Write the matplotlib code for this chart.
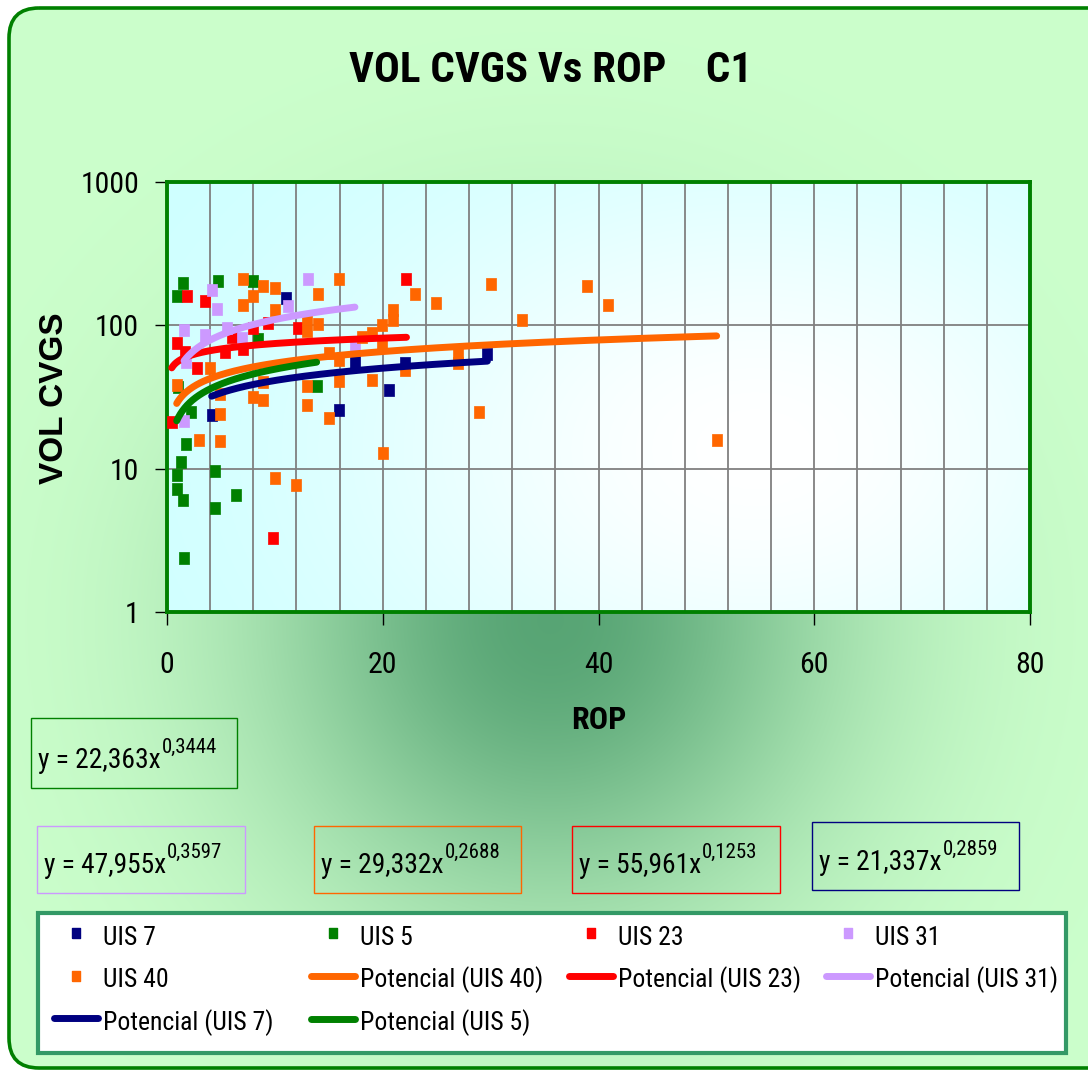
import numpy as np
import matplotlib
matplotlib.use('Agg')
import matplotlib.pyplot as plt
from matplotlib import font_manager as fm
from matplotlib.patches import FancyBboxPatch, Rectangle
from matplotlib.lines import Line2D
from matplotlib.ticker import FixedLocator, FixedFormatter, NullLocator

W, H, DPI = 1088, 1074, 100

# pick a narrow sans font if one is installed, else shrink Arial-metric text
_avail = {f.name for f in fm.fontManager.ttflist}
_pref = ['Liberation Sans Narrow', 'Arial Narrow', 'Arimo Narrow', 'Roboto Condensed',
         'Open Sans Condensed', 'Noto Sans Condensed', 'DejaVu Sans Condensed']
NARROW_NAME = next((p for p in _pref if p in _avail), None)
if NARROW_NAME is None:
    _cands = sorted(n for n in _avail if ('Narrow' in n or 'Condensed' in n)
                    and 'CJK' not in n and 'Mono' not in n and 'Serif' not in n)
    NARROW_NAME = _cands[0] if _cands else None
if NARROW_NAME is not None:
    NARROW = [NARROW_NAME, 'Liberation Sans', 'DejaVu Sans']
    FS = 1.0
else:
    NARROW = ['Liberation Sans', 'DejaVu Sans']
    FS = 0.83
WIDE = ['Liberation Sans', 'DejaVu Sans']
plt.rcParams['font.family'] = NARROW

# ---------------- data ----------------
title = 'VOL CVGS Vs ROP    C1'
x_label = 'ROP'
y_label = 'VOL CVGS'
x_ticks = [0, 20, 40, 60, 80]
x_grid = list(range(0, 81, 4))
y_ticks = [1, 10, 100, 1000]
y_tick_labels = ['1', '10', '100', '1000']

series_names = ['UIS 7', 'UIS 5', 'UIS 23', 'UIS 31', 'UIS 40']
series_colors = ['#000080', '#008000', '#FF0000', '#CC99FF', '#FF6600']

uis7_x = [4.14, 11.03, 15.97, 17.42, 20.6, 22.06, 29.7]
uis7_y = [23.5, 155, 25.7, 55.6, 35.2, 54.2, 63]

uis5_x = [0.90, 1.51, 4.75, 8.0, 8.46, 1.02, 13.87, 2.22, 1.76, 1.27, 0.95, 0.95,
          1.46, 4.45, 6.39, 4.45, 1.58]
uis5_y = [159, 198, 203, 203, 79.9, 37.3, 37.5, 24.8, 14.8, 11.2, 9.1, 7.2,
          6.0, 9.7, 6.5, 5.3, 2.37]

uis23_x = [0.44, 0.95, 1.67, 1.88, 2.81, 3.52, 5.38, 6.0, 7.0, 8.0, 9.39, 9.85, 12.17, 22.2]
uis23_y = [21.1, 74.8, 65.3, 159, 50, 149, 65.3, 83.3, 67.9, 95.5, 103.5, 3.27, 95.5, 211]

uis31_x = [1.58, 1.58, 1.76, 3.52, 4.14, 4.61, 5.53, 6.92, 11.24, 13.1, 17.42]
uis31_y = [21.6, 92.9, 55.6, 85.5, 177, 130, 95.5, 81, 137, 211, 70.2]

uis40_x = [7.02, 8.92, 10.01, 7.94, 7.02, 14.02, 15.97, 10.01, 12.95, 12.95, 14.02, 19.9,
           18.04, 18.97, 19.9, 20.92, 20.92, 22.98, 24.9, 30.03, 38.95, 40.9, 32.87, 15.04,
           15.97, 27.0, 27.0, 22.06, 12.95, 15.97, 18.97, 12.95, 15.04, 28.92, 19.99, 50.95,
           0.90, 4.91, 4.91, 8.0, 8.92, 3.99, 2.99, 4.91, 10.01, 11.96, 8.92]
uis40_y = [211, 189, 182, 159, 139, 165, 211, 128, 110, 92, 102, 101,
           83, 88, 72, 128, 109, 165, 144, 195, 189, 139, 109, 63.7,
           57.1, 63.7, 54.2, 48.6, 37.5, 40.7, 41.8, 27.6, 22.6, 24.8, 12.9, 15.8,
           38.1, 33, 24.1, 31.5, 30.2, 50, 15.8, 15.5, 8.6, 7.7, 40.2]

series_x = [uis7_x, uis5_x, uis23_x, uis31_x, uis40_x]
series_y = [uis7_y, uis5_y, uis23_y, uis31_y, uis40_y]

# power trend lines  y = a * x^b  ("Potencial")
fit_a = [21.337, 22.363, 55.961, 47.955, 29.332]
fit_b = [0.2859, 0.3444, 0.1253, 0.3597, 0.2688]
trend_order = ['UIS 40', 'UIS 23', 'UIS 31', 'UIS 7', 'UIS 5']

# ---------------- layout ----------------
AX_L, AX_R, AX_T, AX_B = 167, 1030, 182, 612
eq_boxes = {'UIS 5': (31, 718, 237, 788), 'UIS 31': (37, 826, 245, 893),
            'UIS 40': (314, 826, 521, 893), 'UIS 23': (572, 826, 780, 893),
            'UIS 7': (812, 822, 1019, 890)}
LEG_BOX = (38, 913, 1066, 1053)

fig = plt.figure(figsize=(W / DPI, H / DPI), dpi=DPI)
fig.patch.set_facecolor('white')

# background axes in pixel coordinates
bg = fig.add_axes([0, 0, 1, 1], zorder=0)
bg.set_xlim(0, W)
bg.set_ylim(H, 0)
bg.axis('off')

yy, xx = np.mgrid[0:H, 0:W]
sy = np.where(yy < 620, 270.0, 290.0)
d2 = ((xx - 550) / 285.0) ** 2 + ((yy - 620) / sy) ** 2
t = 0.93 * np.exp(-d2)
light = np.array([204, 255, 204]) / 255.0
dark = np.array([79, 158, 110]) / 255.0
img = light[None, None, :] * (1 - t[..., None]) + dark[None, None, :] * t[..., None]
border = FancyBboxPatch((9, 8), 1120, 1060, boxstyle='round,pad=0,rounding_size=30',
                        facecolor='none', edgecolor='#008000', lw=2.6, zorder=3)
bg.add_patch(border)
im = bg.imshow(img, extent=(0, W, H, 0), aspect='auto', zorder=1)
im.set_clip_path(border)

# plot-area gradient
rect = [AX_L / W, 1 - AX_B / H, (AX_R - AX_L) / W, (AX_B - AX_T) / H]
pbg = fig.add_axes(rect, zorder=1)
ph, pw = 200, 400
py, px = np.mgrid[0:ph, 0:pw]
r2 = ((px / pw - 0.68) / 0.55) ** 2 + ((py / ph - 0.62) / 0.75) ** 2
tw = np.exp(-r2 * 1.3)
cyan = np.array([204, 255, 255]) / 255.0
white = np.array([1.0, 1.0, 1.0])
pimg = cyan[None, None, :] * (1 - tw[..., None]) + white[None, None, :] * tw[..., None]
pbg.imshow(pimg, extent=(0, 1, 0, 1), aspect='auto')
pbg.axis('off')

# main axes
ax = fig.add_axes(rect, zorder=2)
ax.set_facecolor('none')
ax.set_yscale('log')
ax.set_xlim(0, 80)
ax.set_ylim(1, 1000)
ax.xaxis.set_major_locator(FixedLocator(x_ticks))
ax.xaxis.set_minor_locator(FixedLocator(x_grid))
ax.yaxis.set_major_locator(FixedLocator(y_ticks))
ax.yaxis.set_major_formatter(FixedFormatter(y_tick_labels))
ax.yaxis.set_minor_locator(NullLocator())
ax.set_axisbelow(True)
ax.grid(True, which='both', axis='x', color='#808080', lw=1.3)
ax.grid(True, which='major', axis='y', color='#808080', lw=1.3)
ax.tick_params(which='major', direction='out', length=9, width=1, color='black',
               labelsize=21.5 * FS)
ax.tick_params(axis='x', which='major', pad=19)
ax.tick_params(axis='y', which='major', pad=11)
ax.tick_params(which='minor', length=0)
for s in ax.spines.values():
    s.set_color('#008000')
    s.set_linewidth(2.8)

sq = [(-0.42, -0.5), (0.42, -0.5), (0.42, 0.5), (-0.42, 0.5), (-0.42, -0.5)]

for name, xs, ys, c in zip(series_names, series_x, series_y, series_colors):
    ax.plot(xs, ys, ls='none', marker=sq, ms=9, mfc=c, mec=c, mew=0.5,
            zorder=3, clip_on=False)

for k, name in enumerate(trend_order):
    i = series_names.index(name)
    xs = np.linspace(min(series_x[i]), max(series_x[i]), 300)
    ax.plot(xs, fit_a[i] * xs ** fit_b[i], color=series_colors[i], lw=5,
            solid_capstyle='round', zorder=4 + k)

# texts
bg.text(551, 70, title, ha='center', va='center', fontsize=31 * FS, fontweight='bold')
bg.text(599, 720, x_label, ha='center', va='center', fontsize=23 * FS, fontweight='bold')
bg.text(55, 398, y_label, ha='center', va='center', fontsize=24, fontweight='bold',
        rotation=90, family=WIDE)

def fmt(v, n):
    return f'{v:.{n}f}'.replace('.', ',')

eq_main = []
for name, (x0, y0, x1, y1) in eq_boxes.items():
    i = series_names.index(name)
    bg.add_patch(Rectangle((x0, y0), x1 - x0, y1 - y0, facecolor='none',
                           edgecolor=series_colors[i], lw=1.0, zorder=4))
    base = y1 - 20
    tm = bg.text(x0 + 7, base, f'y = {fmt(fit_a[i], 3)}x', ha='left', va='baseline',
                 fontsize=19.8 * FS, zorder=5)
    eq_main.append((tm, base, fmt(fit_b[i], 4)))

fig.canvas.draw()
for tm, base, sup in eq_main:
    bb = tm.get_window_extent()
    bg.text(bb.x1 + 1, base - 15, sup, ha='left', va='baseline', fontsize=15 * FS, zorder=5)

# legend
lx0, ly0, lx1, ly1 = LEG_BOX
bg.add_patch(Rectangle((lx0, ly0), lx1 - lx0, ly1 - ly0, facecolor='white',
                       edgecolor='#339966', lw=3, zorder=4))
handles, labels = [], []
for name, c in zip(series_names, series_colors):
    handles.append(Line2D([], [], ls='none', marker=sq, ms=7, mfc=c, mec=c))
    labels.append(name)
for name in trend_order:
    i = series_names.index(name)
    handles.append(Line2D([], [], color=series_colors[i], lw=5, solid_capstyle='round'))
    labels.append(f'Potencial ({name})')

col_items = [[0, 4, 8], [1, 5, 9], [2, 6], [3, 7]]
col_x = [54, 311, 569, 826]
LFS = 18.5 * FS
LPX = LFS * DPI / 72
HH = 1.3
for items, cx in zip(col_items, col_x):
    leg = fig.legend([handles[j] for j in items], [labels[j] for j in items],
                     loc='upper left', bbox_to_anchor=(cx / W, 1 - 922 / H),
                     frameon=False, fontsize=LFS, handlelength=44 / LPX,
                     handleheight=HH, handletextpad=5 / LPX, borderpad=0,
                     borderaxespad=0, labelspacing=(42.5 - HH * LPX) / LPX + 0.21)
    leg.set_zorder(10)

fig.savefig('out.png', dpi=DPI)
